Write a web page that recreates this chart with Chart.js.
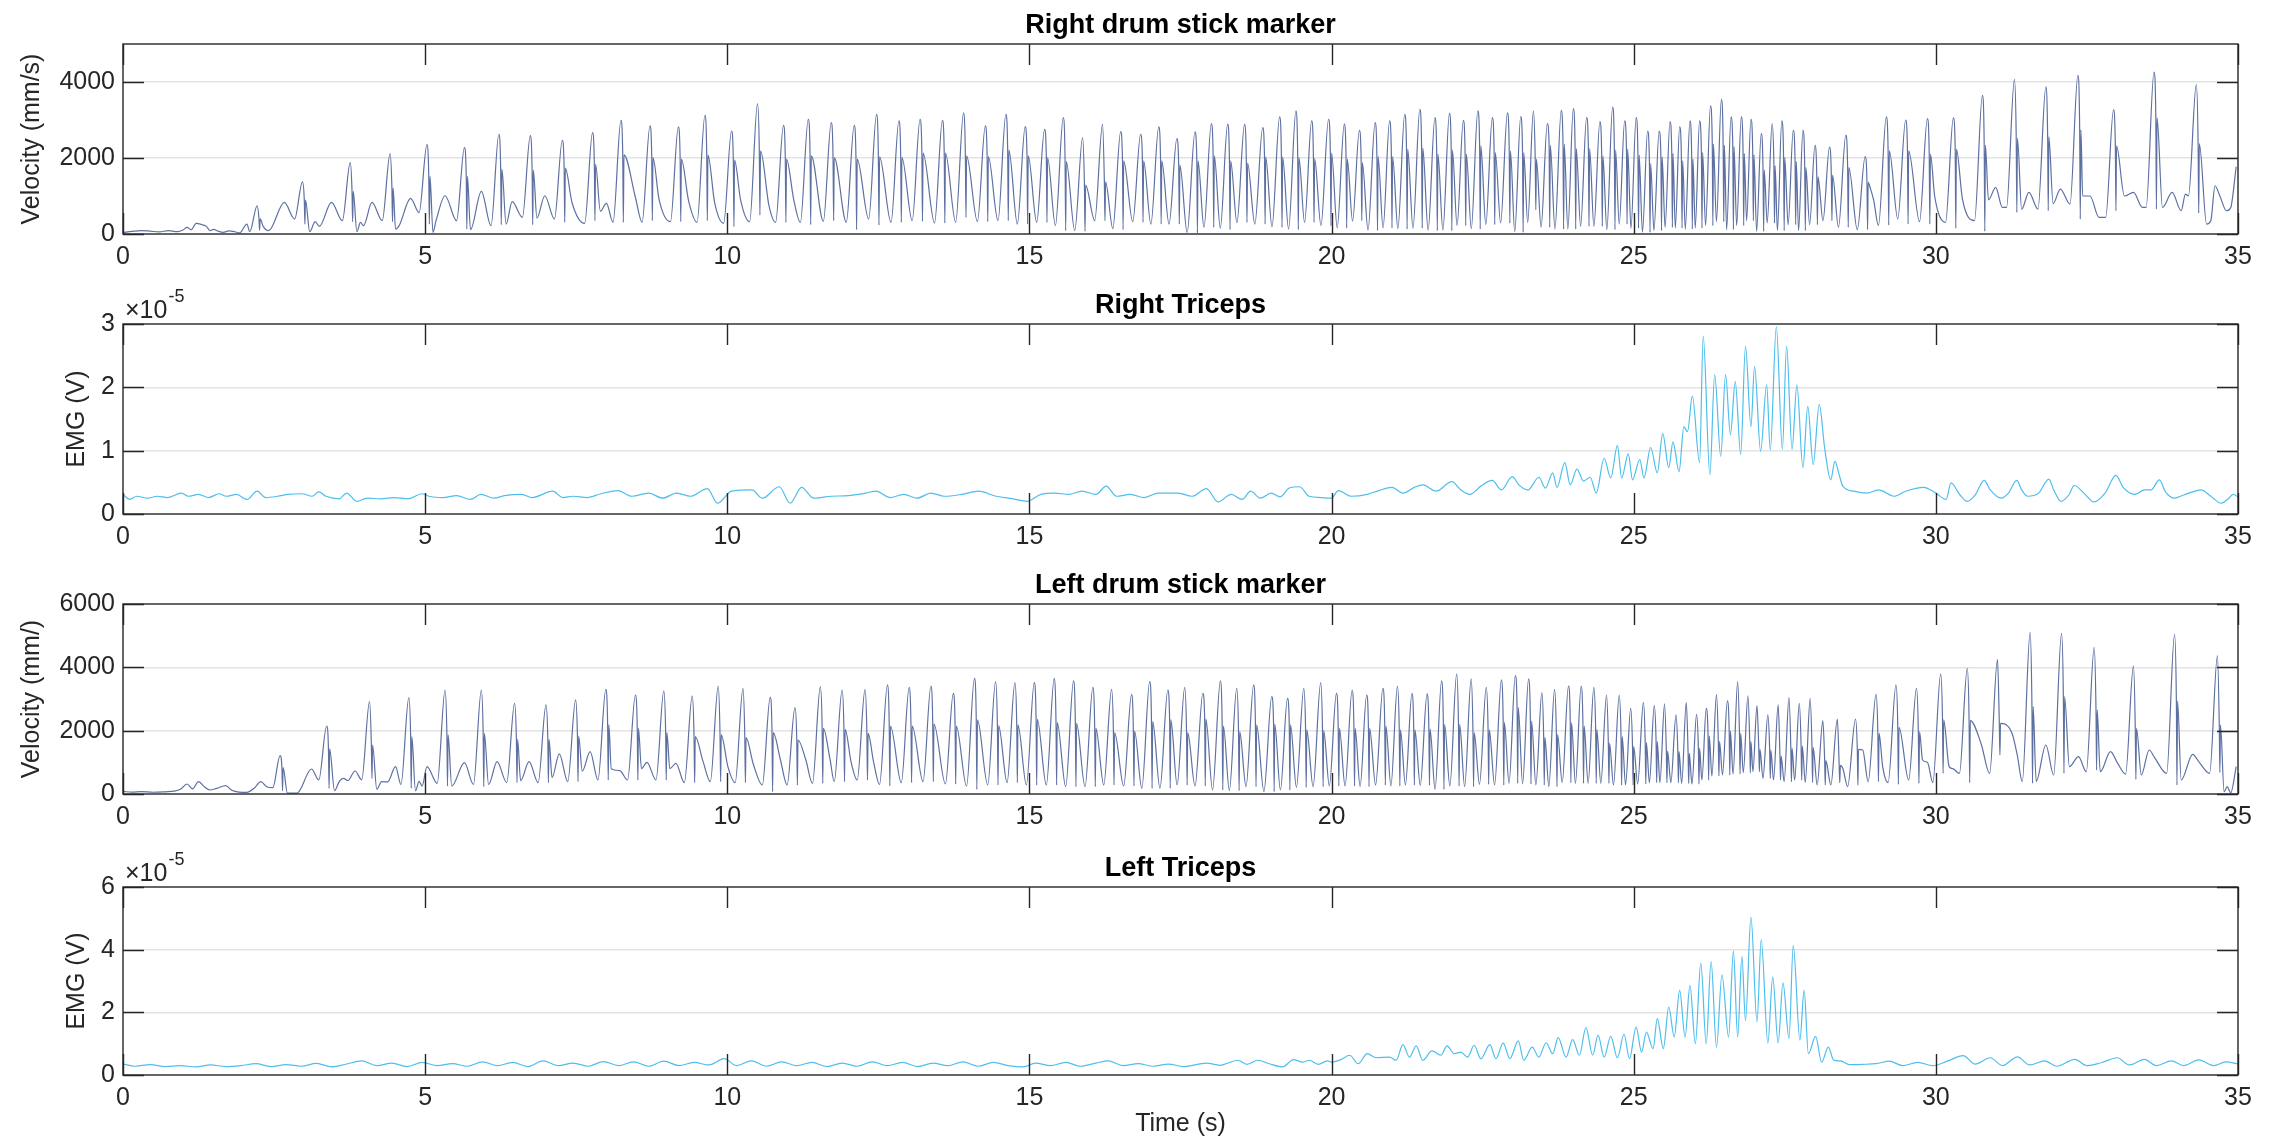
<!DOCTYPE html>
<html lang="en">
<head>
<meta charset="utf-8">
<title>Drum sticks and triceps EMG</title>
<script src="https://cdn.jsdelivr.net/npm/chart.js@4.4.0/dist/chart.umd.min.js"></script>
<style>
  html, body { margin: 0; padding: 0; background: #fff; }
  #fig { position: relative; width: 2279px; height: 1141px; overflow: hidden; }
  #fig canvas { position: absolute; left: 0; }
</style>
</head>
<body>
<div id="fig">
  <canvas id="c1"></canvas>
  <canvas id="c2"></canvas>
  <canvas id="c3"></canvas>
  <canvas id="c4"></canvas>
</div>
<script>
// ---- tick labels ----
const xTicks = [0, 5, 10, 15, 20, 25, 30, 35];
const rdTicks = [0, 2000, 4000];
const rtTicks = [0, 1, 2, 3];
const ldTicks = [0, 2000, 4000, 6000];
const ltTicks = [0, 2, 4, 6];

// ---- Right drum stick marker (mm/s) ----
// one entry per stroke: peak time, peak, shoulder after the hit, bottom of the hit spike, low before the rise
const rdPeakT = [2.22, 2.97, 3.76, 4.42, 5.03, 5.65, 6.22, 6.74, 7.27, 7.77, 8.24, 8.72, 9.19, 9.63, 10.07, 10.50, 10.93, 11.34, 11.72, 12.10,
  12.47, 12.84, 13.19, 13.56, 13.91, 14.27, 14.61, 14.93, 15.25, 15.56, 15.88, 16.21, 16.51, 16.84, 17.14, 17.44, 17.74, 18.01, 18.28, 18.56,
  18.86, 19.14, 19.41, 19.67, 19.95, 20.21, 20.46, 20.72, 20.96, 21.21, 21.46, 21.71, 21.95, 22.18, 22.42, 22.66, 22.91, 23.13, 23.34, 23.57,
  23.80, 24.00, 24.22, 24.44, 24.65, 24.85, 25.04, 25.23, 25.42, 25.60, 25.76, 25.93, 26.09, 26.27, 26.45, 26.61, 26.78, 26.94, 27.11, 27.29,
  27.45, 27.64, 27.80, 28.00, 28.24, 28.51, 28.83, 29.18, 29.50, 29.86, 30.29, 30.77, 31.30, 31.82, 32.35, 32.94, 33.61, 34.31];
const rdPeakV = [744, 1374, 1880, 2117, 2354, 2275, 2625, 2590, 2467, 2670, 2990, 2845, 2820, 3125, 2710, 3430, 2860, 3020, 2930, 2860,
  3150, 2975, 3020, 2990, 3190, 2845, 3150, 2825, 2755, 3060, 2540, 2890, 2695, 2625, 2820, 2510, 2685, 2905, 2890, 2890,
  2800, 3080, 3240, 2975, 3020, 2890, 2730, 2930, 2975, 3150, 3280, 3060, 3175, 2990, 3240, 3060, 3190, 3090, 3240, 2905,
  3255, 3300, 3060, 2960, 3340, 2975, 3060, 2710, 2710, 2960, 2820, 2975, 2975, 3370, 3545, 3080, 3080, 3020, 2640, 2905,
  2975, 2730, 2730, 2335, 2290, 2600, 2040, 3080, 3000, 3035, 3055, 3650, 4070, 3870, 4175, 3265, 4260, 3940];
const rdShV = [400, 893, 1120, 1208, 1514, 1514, 1706, 1680, 1733, 1838, 2083, 2013, 1969, 2074, 1943, 2188, 1969, 2056, 2013, 1969,
  2030, 2013, 2126, 2126, 2056, 2039, 2205, 2056, 2013, 1908, 1286, 1374, 1925, 1925, 1925, 1811, 1925, 2056, 1925, 1864,
  2030, 2030, 2013, 1986, 2126, 1969, 1881, 2039, 2039, 2231, 2258, 2100, 2205, 2100, 2319, 2144, 2188, 2144, 1969, 2336,
  2363, 2249, 2249, 2056, 2205, 2231, 2074, 1855, 2030, 2118, 1925, 1969, 2144, 2363, 2336, 2293, 2118, 2083, 1680, 1794,
  2013, 1908, 1750, 1505, 1549, 1750, 1356, 2188, 2188, 2100, 2231, 2336, 2520, 2555, 2739, 2319, 3063, 2380];
const rdDipV = [100, 262, 324, 324, 262, 131, 245, 245, 306, 350, 306, 350, 324, 350, 192, 499, 306, 245, 350, 114,
  236, 306, 332, 289, 437, 324, 350, 262, 306, 87, 70, 350, 114, 306, 262, 262, 26, 175, 114, 306,
  262, 175, 114, 306, 219, 158, 350, 87, 158, 131, 149, 87, 87, 219, 131, 245, 289, 44, 639, 175,
  131, 131, 201, 201, 114, 262, 149, 44, 87, 175, 158, 131, 158, 219, 324, 114, 219, 350, 70, 289,
  87, 245, 87, 245, 350, 175, 114, 236, 262, 262, 149, 70, 569, 612, 394, 612, 656, 551];
const rdLowV = [60, 394, 350, 350, 560, 350, 219, 437, 394, 280, 306, 306, 324, 306, 280, 324, 306, 306, 330, 306,
  390, 306, 350, 289, 306, 324, 350, 262, 306, 220, 90, 350, 140, 324, 262, 262, 40, 175, 150, 300,
  262, 190, 130, 306, 220, 160, 340, 100, 160, 140, 150, 100, 100, 220, 140, 245, 290, 60, 300, 180,
  130, 130, 200, 200, 110, 260, 150, 50, 90, 175, 160, 130, 160, 220, 320, 115, 220, 350, 70, 290,
  90, 245, 90, 245, 350, 175, 114, 219, 394, 324, 306, 350, 700, 656, 787, 437, 700, 1000];
// quiet start, humps between strokes and the tail
const rdExT = [0, 0.15, 0.3, 0.45, 0.6, 0.75, 0.9, 1.0, 1.06, 1.13, 1.21, 1.3, 1.38, 1.44, 1.5, 1.58, 1.66, 1.75, 1.85, 1.93, 2.05,
  2.32, 2.41, 2.67, 3.09, 3.18, 3.25, 3.45, 3.87, 3.93, 3.98, 4.12, 4.51, 4.57, 4.76, 5.13, 5.18, 5.33, 5.75, 5.93, 6.34, 6.44,
  6.85, 6.98, 7.43, 7.90, 8.0, 8.48, 8.87, 9.36, 9.79, 10.22, 10.69, 11.10,
  28.92, 28.97, 29.98, 30.44, 30.87, 30.99, 31.10, 31.42, 31.54, 31.94, 32.06, 32.43, 32.55, 32.70, 33.12, 33.27, 33.42,
  33.75, 33.91, 34.06, 34.13, 34.48, 34.55, 34.62, 34.70, 34.81, 34.88, 34.97];
const rdExV = [40, 70, 90, 75, 55, 90, 60, 110, 175, 110, 280, 250, 200, 90, 120, 70, 44, 80, 60, 30, 262,
  200, 87, 830, 61, 324, 200, 830, 61, 306, 220, 830, 131, 219, 936, 44, 350, 1006, 114, 1120, 262, 850,
  420, 1006, 830, 600, 805, 960, 918, 870, 830, 900, 744, 900,
  1180, 900, 1000, 918, 900, 1225, 700, 656, 1094, 800, 1181, 1000, 1000, 437, 1000, 1094, 700,
  700, 1094, 612, 1050, 262, 350, 1270, 1000, 612, 700, 1770];

// ---- Left drum stick marker (mm/s) ----
const ldPeakT = [2.60, 3.37, 4.08, 4.73, 5.33, 5.93, 6.48, 7.00, 7.49, 7.99, 8.48, 8.95, 9.42, 9.85, 10.26, 10.71, 11.12, 11.54, 11.90, 12.28,
  12.65, 13.01, 13.37, 13.74, 14.09, 14.44, 14.76, 15.08, 15.41, 15.73, 16.05, 16.36, 16.69, 16.99, 17.29, 17.57, 17.87, 18.16, 18.43, 18.71,
  19.01, 19.27, 19.54, 19.82, 20.08, 20.34, 20.58, 20.85, 21.09, 21.33, 21.58, 21.82, 22.07, 22.31, 22.56, 22.81, 23.04, 23.26, 23.48, 23.69,
  23.92, 24.13, 24.34, 24.55, 24.76, 24.95, 25.16, 25.34, 25.51, 25.70, 25.87, 26.04, 26.20, 26.37, 26.55, 26.72, 26.89, 27.04, 27.22, 27.39,
  27.57, 27.74, 27.92, 28.13, 28.37, 28.67, 29.01, 29.34, 29.68, 30.08, 30.52, 31.02, 31.56, 32.08, 32.62, 33.27, 33.95, 34.66];
const ldPeakV = [1211, 2148, 2917, 3043, 3285, 3285, 2864, 2812, 2970, 3306, 3127, 3254, 3096, 3411, 3338, 3054, 2727, 3390, 3285, 3306,
  3443, 3370, 3411, 3180, 3654, 3549, 3517, 3517, 3654, 3570, 3370, 3306, 3148, 3549, 3285, 3370, 3180, 3570, 3338, 3443,
  3075, 3022, 3338, 3517, 3180, 3285, 3127, 3338, 3411, 3180, 3159, 3570, 3791, 3633, 3370, 3601, 3738, 3633, 3201, 3306,
  3411, 3411, 3370, 3127, 3127, 2706, 2896, 2790, 2843, 2496, 2896, 2517, 2706, 3148, 2938, 3549, 3096, 2790, 2496, 2812,
  3054, 2864, 3022, 2317, 2369, 2369, 3148, 3443, 3338, 3791, 3970, 4254, 5107, 5075, 4633, 4043, 5044, 4370];
const ldShV = [832, 1422, 1548, 1811, 1864, 1916, 1727, 1727, 1832, 2180, 2074, 1938, 1811, 1864, 1780, 1938, 1706, 2074, 2043, 1916,
  2148, 2148, 2211, 2148, 2338, 2159, 2180, 2359, 2253, 2232, 2074, 1938, 1990, 2285, 2338, 1938, 2369, 2148, 1969, 2180,
  2211, 2180, 2022, 2001, 2074, 2074, 2074, 2148, 2022, 2022, 2053, 2201, 2201, 1938, 2022, 2264, 2727, 2306, 1790, 1885,
  2253, 2148, 2043, 1601, 1811, 1495, 1622, 1653, 1358, 1337, 1285, 1443, 1832, 1653, 1990, 1916, 1653, 1411, 1390, 1200,
  1443, 1516, 1464, 1053, 906, 1411, 1916, 2106, 1969, 2338, 2317, 2232, 2759, 3075, 2654, 2074, 2938, 2180];
const ldDipV = [105, 179, 495, 179, 253, 232, 358, 358, 390, 442, 442, 442, 358, 390, 358, 74, 284, 337, 390, 442,
  253, 358, 390, 316, 147, 284, 358, 284, 284, 232, 232, 284, 253, 179, 179, 284, 253, 126, 105, 232,
  74, 126, 211, 232, 253, 253, 232, 284, 253, 284, 274, 147, 253, 232, 305, 284, 337, 316, 284, 232,
  358, 337, 337, 337, 284, 284, 316, 358, 358, 358, 337, 316, 442, 569, 600, 632, 674, 706, 495, 442,
  390, 442, 369, 284, 358, 284, 390, 305, 337, 653, 358, 1232, 337, 653, 758, 463, 284, 684];
const ldLowV = [200, 442, 450, 300, 337, 300, 358, 358, 390, 442, 442, 442, 358, 390, 358, 284, 284, 337, 390, 442,
  300, 358, 390, 316, 250, 284, 358, 284, 284, 232, 232, 284, 253, 179, 179, 284, 253, 126, 105, 232,
  74, 126, 211, 232, 253, 253, 232, 284, 253, 284, 274, 147, 253, 232, 305, 284, 337, 316, 284, 232,
  358, 337, 337, 337, 284, 284, 316, 358, 358, 358, 337, 316, 442, 569, 600, 632, 674, 706, 495, 442,
  390, 442, 369, 284, 284, 232, 390, 358, 442, 358, 650, 650, 390, 600, 700, 630, 650, 650];
const ldExT = [0, 0.15, 0.3, 0.5, 0.7, 0.85, 0.95, 1.06, 1.15, 1.25, 1.35, 1.44, 1.55, 1.70, 1.8, 1.92, 2.05, 2.18, 2.28, 2.38,
  2.72, 2.88, 3.12, 3.50, 3.58, 3.65, 3.72, 3.84, 4.20, 4.28, 4.38, 4.51, 4.84, 4.90, 4.95, 5.03, 5.44, 5.65, 6.05, 6.19,
  6.58, 6.72, 7.10, 7.22, 7.60, 7.73, 8.08, 8.22, 8.58, 8.67, 9.05, 9.15, 9.60, 10.01, 10.43, 10.88, 11.30, 11.70, 12.05, 12.42,
  28.46, 28.79, 29.12, 29.78, 29.86, 30.22, 30.28, 30.75, 31.26, 31.35, 31.66, 31.82, 32.21, 32.36, 32.72, 32.89, 33.00,
  33.40, 33.53, 33.62, 34.06, 34.25, 34.36, 34.77, 34.82, 34.88, 34.97];
const ldExV = [80, 60, 75, 55, 70, 90, 150, 316, 160, 390, 220, 126, 180, 263, 120, 60, 50, 200, 390, 230,
  30, 30, 790, 105, 400, 495, 420, 727, 150, 390, 380, 863, 100, 400, 250, 863, 250, 990, 300, 1021,
  420, 1021, 520, 1264, 720, 1337, 800, 740, 800, 1000, 800, 969, 1021, 863, 948, 1074, 1074, 1100, 1000, 1021,
  811, 1390, 863, 1074, 1000, 863, 800, 1580, 1916, 1200, 400, 1548, 863, 1180, 700, 1337, 1000,
  600, 1390, 1150, 442, 1253, 1000, 74, 230, 40, 863];

// ---- Right Triceps EMG (x 1e-5 V) ----
const rtT = [0, 0.11, 0.23, 0.40, 0.57, 0.74, 0.97, 1.08, 1.25, 1.42, 1.59, 1.71, 1.88, 2.05, 2.22, 2.36, 2.56, 2.73, 2.96, 3.13,
  3.24, 3.36, 3.58, 3.70, 3.87, 4.04, 4.27, 4.49, 4.72, 4.95, 5.06, 5.29, 5.52, 5.75, 5.92, 6.14, 6.31, 6.60, 6.77, 7.11,
  7.28, 7.45, 7.68, 7.91, 8.19, 8.42, 8.70, 8.93, 9.16, 9.39, 9.67, 9.84, 10.07, 10.41, 10.58, 10.86, 11.04, 11.23, 11.43, 11.72,
  12.00, 12.29, 12.46, 12.69, 12.92, 13.14, 13.37, 13.59, 13.88, 14.16, 14.45, 14.73, 14.96, 15.19, 15.42, 15.65, 15.87, 16.10, 16.27, 16.44,
  16.67, 16.90, 17.13, 17.46, 17.69, 17.93, 18.12, 18.34, 18.52, 18.66, 18.82, 19.00, 19.15, 19.30, 19.47, 19.63, 19.82, 20.00, 20.11, 20.33,
  20.59, 20.78, 21.00, 21.18, 21.37, 21.51, 21.73, 21.99, 22.14, 22.29, 22.47, 22.66, 22.81, 22.99, 23.10, 23.25, 23.43, 23.54, 23.66, 23.73,
  23.86, 23.95, 24.06, 24.17, 24.28, 24.38, 24.51, 24.62, 24.73, 24.80, 24.91, 24.98, 25.10, 25.17, 25.28, 25.39, 25.48, 25.58, 25.65, 25.75,
  25.83, 25.89, 25.97, 26.09, 26.15, 26.26, 26.34, 26.44, 26.52, 26.60, 26.68, 26.77, 26.85, 26.94, 27.00, 27.10, 27.20, 27.26, 27.36, 27.46,
  27.53, 27.62, 27.70, 27.80, 27.88, 27.97, 28.07, 28.16, 28.26, 28.33, 28.40, 28.46, 28.64, 28.86, 29.05, 29.31, 29.50, 29.80, 30.00, 30.17,
  30.25, 30.40, 30.52, 30.65, 30.80, 30.90, 31.08, 31.20, 31.34, 31.42, 31.52, 31.70, 31.87, 31.95, 32.07, 32.20, 32.29, 32.45, 32.62, 32.80,
  32.98, 33.10, 33.29, 33.45, 33.56, 33.70, 33.80, 33.95, 34.10, 34.25, 34.39, 34.55, 34.72, 34.85, 34.92, 35.00];
const rtV = [0.31, 0.23, 0.28, 0.25, 0.28, 0.26, 0.33, 0.28, 0.31, 0.26, 0.32, 0.28, 0.31, 0.23, 0.36, 0.26, 0.28, 0.31, 0.32, 0.28,
  0.35, 0.28, 0.24, 0.33, 0.20, 0.25, 0.24, 0.26, 0.24, 0.32, 0.28, 0.26, 0.29, 0.23, 0.31, 0.25, 0.29, 0.31, 0.26, 0.36,
  0.26, 0.28, 0.26, 0.32, 0.37, 0.28, 0.33, 0.25, 0.33, 0.28, 0.40, 0.17, 0.36, 0.38, 0.25, 0.43, 0.17, 0.42, 0.25, 0.28,
  0.29, 0.33, 0.36, 0.26, 0.31, 0.25, 0.33, 0.28, 0.31, 0.36, 0.28, 0.24, 0.20, 0.31, 0.33, 0.31, 0.36, 0.31, 0.44, 0.28,
  0.31, 0.26, 0.33, 0.33, 0.28, 0.40, 0.19, 0.31, 0.23, 0.36, 0.25, 0.33, 0.27, 0.41, 0.43, 0.28, 0.26, 0.25, 0.37, 0.28,
  0.31, 0.37, 0.42, 0.33, 0.42, 0.46, 0.36, 0.51, 0.38, 0.31, 0.44, 0.53, 0.38, 0.59, 0.46, 0.38, 0.58, 0.41, 0.65, 0.42,
  0.81, 0.46, 0.71, 0.52, 0.58, 0.33, 0.88, 0.57, 1.08, 0.57, 0.95, 0.54, 0.86, 0.57, 1.05, 0.65, 1.27, 0.73, 1.14, 0.67,
  1.38, 1.30, 1.86, 0.81, 2.81, 0.62, 2.20, 0.91, 2.20, 1.25, 2.09, 0.94, 2.65, 1.38, 2.33, 0.99, 2.04, 1.01, 2.96, 1.02,
  2.65, 1.02, 2.04, 0.73, 1.70, 0.78, 1.73, 1.04, 0.54, 0.83, 0.62, 0.44, 0.36, 0.33, 0.38, 0.28, 0.36, 0.42, 0.33, 0.23,
  0.49, 0.30, 0.20, 0.30, 0.53, 0.38, 0.25, 0.33, 0.53, 0.38, 0.28, 0.33, 0.55, 0.38, 0.20, 0.30, 0.45, 0.33, 0.19, 0.33,
  0.61, 0.42, 0.31, 0.38, 0.38, 0.54, 0.35, 0.25, 0.30, 0.35, 0.38, 0.28, 0.17, 0.25, 0.31, 0.27];

// ---- Left Triceps EMG (x 1e-5 V) ----
const ltT = [0, 0.2, 0.45, 0.7, 0.95, 1.2, 1.45, 1.7, 1.95, 2.2, 2.45, 2.7, 2.95, 3.2, 3.45, 3.7, 3.95, 4.2, 4.45, 4.7,
  4.95, 5.2, 5.45, 5.7, 5.95, 6.2, 6.45, 6.7, 6.95, 7.2, 7.45, 7.7, 7.95, 8.2, 8.45, 8.7, 8.95, 9.2, 9.45, 9.7,
  9.95, 10.15, 10.4, 10.65, 10.9, 11.15, 11.4, 11.65, 11.9, 12.15, 12.4, 12.65, 12.9, 13.15, 13.4, 13.65, 13.9, 14.15, 14.4, 14.65,
  14.9, 15.1, 15.35, 15.6, 15.85, 16.1, 16.3, 16.55, 16.8, 17.05, 17.3, 17.55, 17.93, 18.15, 18.45, 18.60, 18.78, 18.97, 19.19, 19.37,
  19.52, 19.63, 19.78, 19.93, 20.00, 20.15, 20.30, 20.44, 20.59, 20.74, 20.96, 21.07, 21.18, 21.29, 21.40, 21.51, 21.66, 21.81, 21.91, 22.03,
  22.14, 22.25, 22.36, 22.47, 22.62, 22.72, 22.84, 22.95, 23.09, 23.18, 23.32, 23.43, 23.55, 23.66, 23.75, 23.88, 23.99, 24.10, 24.21, 24.32,
  24.41, 24.51, 24.62, 24.73, 24.84, 24.93, 25.04, 25.13, 25.21, 25.32, 25.39, 25.49, 25.58, 25.67, 25.76, 25.85, 25.93, 26.02, 26.11, 26.20,
  26.28, 26.37, 26.46, 26.57, 26.65, 26.72, 26.79, 26.85, 26.94, 27.04, 27.11, 27.22, 27.30, 27.39, 27.47, 27.57, 27.64, 27.75, 27.82, 27.89,
  28.01, 28.11, 28.22, 28.31, 28.42, 28.57, 28.79, 29.01, 29.23, 29.45, 29.7, 29.95, 30.2, 30.45, 30.65, 30.9, 31.1, 31.35, 31.55, 31.8,
  32.0, 32.3, 32.5, 32.75, 33.0, 33.2, 33.45, 33.65, 33.9, 34.1, 34.35, 34.6, 34.8, 35.0];
const ltV = [0.35, 0.28, 0.33, 0.27, 0.30, 0.26, 0.32, 0.27, 0.30, 0.36, 0.27, 0.33, 0.28, 0.37, 0.26, 0.35, 0.45, 0.30, 0.38, 0.27,
  0.40, 0.30, 0.36, 0.28, 0.42, 0.30, 0.40, 0.27, 0.45, 0.30, 0.38, 0.28, 0.43, 0.30, 0.42, 0.28, 0.44, 0.30, 0.40, 0.32,
  0.52, 0.30, 0.45, 0.28, 0.42, 0.30, 0.40, 0.27, 0.38, 0.28, 0.42, 0.30, 0.40, 0.27, 0.38, 0.30, 0.42, 0.28, 0.40, 0.30,
  0.26, 0.38, 0.30, 0.40, 0.28, 0.38, 0.45, 0.30, 0.36, 0.28, 0.35, 0.27, 0.38, 0.31, 0.47, 0.34, 0.47, 0.36, 0.26, 0.49,
  0.41, 0.47, 0.34, 0.45, 0.41, 0.49, 0.63, 0.36, 0.68, 0.55, 0.57, 0.47, 0.97, 0.57, 0.93, 0.47, 0.77, 0.63, 0.93, 0.68,
  0.73, 0.57, 0.95, 0.52, 0.97, 0.52, 1.02, 0.52, 1.09, 0.47, 0.89, 0.57, 1.03, 0.68, 1.19, 0.57, 1.13, 0.63, 1.51, 0.63,
  1.27, 0.57, 1.23, 0.55, 1.30, 0.52, 1.53, 0.73, 1.37, 0.84, 1.80, 0.84, 2.17, 1.21, 2.70, 1.21, 2.86, 1.00, 3.57, 1.00,
  3.63, 0.89, 3.20, 1.21, 3.96, 1.21, 3.79, 1.74, 5.04, 1.69, 4.32, 1.02, 3.13, 1.02, 2.94, 1.16, 4.14, 1.11, 2.70, 0.68,
  1.23, 0.41, 0.89, 0.47, 0.45, 0.33, 0.34, 0.36, 0.44, 0.30, 0.40, 0.30, 0.45, 0.62, 0.35, 0.55, 0.30, 0.58, 0.32, 0.45,
  0.28, 0.50, 0.30, 0.40, 0.55, 0.32, 0.50, 0.30, 0.45, 0.30, 0.48, 0.30, 0.42, 0.35];

// ---- building the line points ----
function buildStrokes(peakT, peakV, shV, dipV, lowV, exT, exV) {
  const pts = exT.map((t, i) => ({ x: t, y: exV[i] }));
  peakT.forEach((t, i) => {
    const gap = i > 0 ? t - peakT[i - 1] : 0.27;
    const rise = Math.min(0.13, 0.45 * gap);
    pts.push({ x: t - rise, y: lowV[i] });
    pts.push({ x: t, y: peakV[i] });
    pts.push({ x: t + 0.03, y: shV[i] });
    pts.push({ x: t + 0.04, y: dipV[i] });
    pts.push({ x: t + 0.05, y: shV[i] });
  });
  return pts.sort((a, b) => a.x - b.x);
}

function pairUp(ts, vs) {
  return ts.map((t, i) => ({ x: t, y: vs[i] }));
}

// MATLAB-like box, inward ticks and the texts around each axes
const matlabAxes = {
  id: "matlabAxes",
  afterDraw(chart, args, opts) {
    const { ctx, chartArea: a } = chart;
    const xs = chart.scales.x;
    const ys = chart.scales.y;
    const tl = 21;
    ctx.save();
    ctx.strokeStyle = "#262626";
    ctx.lineWidth = 1.4;
    ctx.beginPath();
    xs.ticks.forEach((t) => {
      const px = Math.round(xs.getPixelForValue(t.value)) + 0.5;
      ctx.moveTo(px, a.bottom);
      ctx.lineTo(px, a.bottom - tl);
      ctx.moveTo(px, a.top);
      ctx.lineTo(px, a.top + tl);
    });
    ys.ticks.forEach((t) => {
      const py = Math.round(ys.getPixelForValue(t.value)) + 0.5;
      ctx.moveTo(a.left, py);
      ctx.lineTo(a.left + tl, py);
      ctx.moveTo(a.right, py);
      ctx.lineTo(a.right - tl, py);
    });
    ctx.stroke();
    ctx.strokeRect(a.left, a.top, a.right - a.left, a.bottom - a.top);

    ctx.fillStyle = "#000";
    ctx.textAlign = "center";
    ctx.textBaseline = "middle";
    ctx.font = "bold 27px 'Liberation Sans', Arial, sans-serif";
    ctx.fillText(opts.title, (a.left + a.right) / 2, a.top - 18);

    ctx.fillStyle = "#262626";
    ctx.font = "25px 'Liberation Sans', Arial, sans-serif";
    ctx.save();
    ctx.translate(opts.ylabelX, (a.top + a.bottom) / 2);
    ctx.rotate(-Math.PI / 2);
    ctx.fillText(opts.ylabel, 0, 0);
    ctx.restore();

    if (opts.exponent) {
      ctx.textAlign = "left";
      ctx.fillText("\u00d710", a.left + 2, a.top - 13);
      const w = ctx.measureText("\u00d710").width;
      ctx.font = "18px 'Liberation Sans', Arial, sans-serif";
      ctx.fillText(opts.exponent, a.left + 3 + w, a.top - 27);
    }
    if (opts.xlabel) {
      ctx.font = "25px 'Liberation Sans', Arial, sans-serif";
      ctx.textAlign = "center";
      ctx.fillText(opts.xlabel, (a.left + a.right) / 2, opts.xlabelY);
    }
    ctx.restore();
  },
};

const strokeBlue = "#5d70a1";
const emgBlue = "#4dbeee";

const panels = [
  { id: "c1", top: 44, bottom: 234, xH: 62, yMax: 5000, yTicks: rdTicks, color: strokeBlue,
    data: buildStrokes(rdPeakT, rdPeakV, rdShV, rdDipV, rdLowV, rdExT, rdExV),
    deco: { title: "Right drum stick marker", ylabel: "Velocity (mm/s)", ylabelX: 32 } },
  { id: "c2", top: 324, bottom: 514, xH: 62, yMax: 3, yTicks: rtTicks, color: emgBlue,
    data: pairUp(rtT, rtV),
    deco: { title: "Right Triceps", ylabel: "EMG (V)", ylabelX: 77, exponent: "-5" } },
  { id: "c3", top: 604, bottom: 794, xH: 62, yMax: 6000, yTicks: ldTicks, color: strokeBlue,
    data: buildStrokes(ldPeakT, ldPeakV, ldShV, ldDipV, ldLowV, ldExT, ldExV),
    deco: { title: "Left drum stick marker", ylabel: "Velocity (mm/)", ylabelX: 32 } },
  { id: "c4", top: 887, bottom: 1075, xH: 66, yMax: 6, yTicks: ltTicks, color: emgBlue,
    data: pairUp(ltT, ltV),
    deco: { title: "Left Triceps", ylabel: "EMG (V)", ylabelX: 77, exponent: "-5", xlabel: "Time (s)" } },
];

Chart.defaults.font.family = "'Liberation Sans', Arial, sans-serif";
Chart.defaults.font.size = 25;
Chart.defaults.color = "#262626";

const padTop = 50;
panels.forEach((p) => {
  const canvas = document.getElementById(p.id);
  const h = padTop + (p.bottom - p.top) + p.xH;
  canvas.width = 2279;
  canvas.height = h;
  canvas.style.top = p.top - padTop + "px";
  if (p.deco.xlabel) p.deco.xlabelY = 1124 - (p.top - padTop);

  new Chart(canvas, {
    type: "line",
    data: {
      datasets: [{
        data: p.data,
        borderColor: p.color,
        borderWidth: 1.2,
        pointRadius: 0,
        cubicInterpolationMode: "monotone",
        fill: false,
      }],
    },
    options: {
      responsive: false,
      animation: false,
      events: [],
      layout: { padding: { top: padTop, right: 41, left: 0, bottom: 0 } },
      plugins: {
        legend: { display: false },
        tooltip: { enabled: false },
        matlabAxes: p.deco,
      },
      scales: {
        x: {
          type: "linear",
          min: 0,
          max: 35,
          afterBuildTicks: (s) => { s.ticks = xTicks.map((v) => ({ value: v })); },
          afterFit: (s) => { s.height = p.xH; },
          ticks: { padding: 8, callback: (v) => String(v), maxRotation: 0, autoSkip: false },
          grid: { display: false, drawTicks: false },
          border: { display: false },
        },
        y: {
          type: "linear",
          min: 0,
          max: p.yMax,
          afterBuildTicks: (s) => { s.ticks = p.yTicks.map((v) => ({ value: v })); },
          afterFit: (s) => { s.width = 123; },
          ticks: { padding: 8, callback: (v) => String(v), autoSkip: false },
          grid: {
            drawTicks: false,
            lineWidth: 1.5,
            color: (c) => (c.tick && c.tick.value > 0 && c.tick.value < p.yMax ? "#e3e3e3" : "rgba(0,0,0,0)"),
          },
          border: { display: false },
        },
      },
    },
    plugins: [matlabAxes],
  });
});
</script>
</body>
</html>
